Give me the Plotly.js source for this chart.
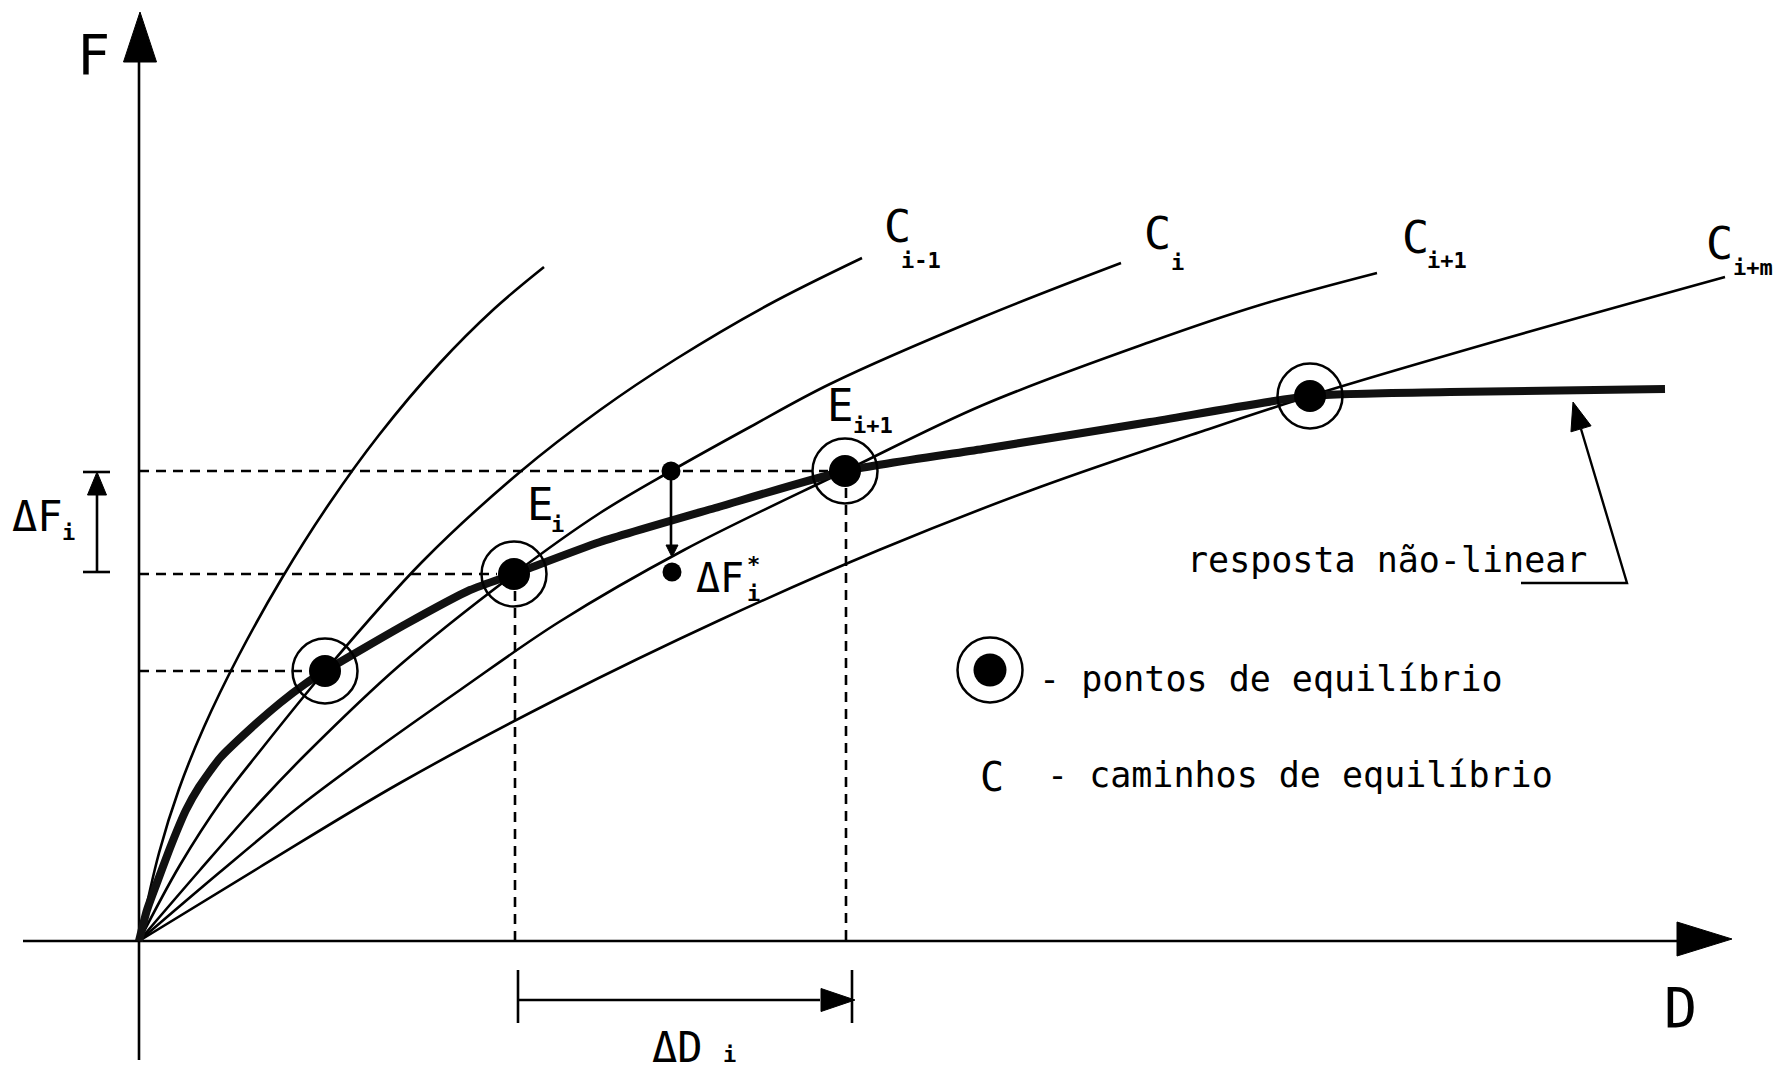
<!DOCTYPE html>
<html><head><meta charset="utf-8">
<script src="https://cdn.plot.ly/plotly-3.0.1.min.js"></script>
<style>html,body{margin:0;padding:0;background:#fff;}#chart{width:1776px;height:1071px;}</style>
</head><body><div id="chart"></div>
<script>
// ---- Data (D = displacement, F = force, arbitrary units) ----
// Equilibrium paths
const cIm2D = [0,20,40,65,100,143,190,240,300,355,405];
const cIm2F = [0,88,152,214,286,363,437,506,577,632,674];
const cIm1D = [0,41,83,121,186,283,381,461,537,629,723];
const cIm1F = [0,76,141,190,270,379,469,531,582,636,683];
const cID   = [0,61,121,169,261,375,461,532,611,691,844,982];
const cIF   = [0,71,139,189,276,367,428,470,514,557,624,678];
const cIp1D = [0,81,161,239,321,420,545,706,844,1011,1121,1238];
const cIp1F = [0,69,135,193,251,319,391,470,536,599,636,668];
const cImD  = [0,121,261,420,581,740,901,1061,1171,1361,1586];
const cImF  = [0,74,158,243,321,391,454,509,545,601,664];
// Non-linear response
const respD = [0,8,19,33,47,60,81,110,141,166,186,267,331,375,461,576,706,844,1011,1171,1311,1526];
const respF = [0,31,61,98,131,154,183,211,238,257,270,317,351,367,399,433,470,492,519,545,549,552];
// Equilibrium points
const eqD = [186,375,706,1171];
const eqF = [270,367,470,545];
// Predicted point (ΔF*)
const predD = [532,533];
const predF = [470,369];
// Labels
const pathLabels = ['i-1','i','i+1','i+m'];
const eqLabels = ['i','i+1'];

// ---- Drawing helpers ----
const K = '#000';
function line(x, y, w, dash, shape) {
  return {x:x, y:y, mode:'lines', hoverinfo:'skip',
    line:{color:K, width:w, dash:dash||'solid', shape:shape||'linear', smoothing:1}};
}
function tri(tx, ty, ux, uy, len, hw) {
  const n = Math.hypot(ux, uy); ux/=n; uy/=n;
  const bx = tx-ux*len, by = ty-uy*len, px = -uy, py = ux;
  return {x:[tx,bx+px*hw,bx-px*hw,tx], y:[ty,by+py*hw,by-py*hw,ty], mode:'lines',
    fill:'toself', fillcolor:K, line:{color:K,width:1}, hoverinfo:'skip'};
}
function dots(x, y, s) {
  return {x:x, y:y, mode:'markers', hoverinfo:'skip', marker:{color:K, size:s, line:{width:0}}};
}
function rings(x, y, s) {
  return {x:x, y:y, mode:'markers', hoverinfo:'skip',
    marker:{symbol:'circle-open', color:K, size:s, line:{color:K, width:2.5}}};
}
const FONT = 'DejaVu Sans Mono';
function ann(text, x, y, size, xa) {
  return {text:text, x:x, y:y, xref:'x', yref:'y', showarrow:false,
    xanchor:xa||'center', yanchor:'middle', font:{family:FONT, size:size, color:K}};
}

const traces = [];
// axes
traces.push(line([0,0],[-119,880],2.6));
traces.push(line([-116,1540],[0,0],2.6));
traces.push(tri(1,929,0,1,50,16.5));
traces.push(tri(1593,2,1,0,55,17));
// equilibrium paths
[[cIm2D,cIm2F],[cIm1D,cIm1F],[cID,cIF],[cIp1D,cIp1F],[cImD,cImF]].forEach(p=>{
  traces.push(line(p[0],p[1],2.6,'solid','spline'));
});
// dashed guides
for (let k=0;k<3;k++) traces.push(line([0,eqD[k]-17],[eqF[k],eqF[k]],2.6,'10px,7px'));
for (let k=1;k<3;k++) traces.push(line([eqD[k]+1,eqD[k]+1],[eqF[k]-17,0],2.6,'10px,7px'));
// non-linear response
traces.push({x:respD, y:respF, mode:'lines', hoverinfo:'skip',
  line:{color:'#111', width:8, shape:'spline', smoothing:0.6}});
// ΔF_i dimension
const dfx = -42;
traces.push(line([dfx,dfx],[eqF[1]+2,eqF[2]-22],2.6));
traces.push(line([dfx-14,dfx+13],[eqF[2]-1,eqF[2]-1],2.6));
traces.push(line([dfx-14,dfx+13],[eqF[1]+2,eqF[1]+2],2.6));
traces.push(tri(dfx,eqF[2]-1,0,1,23,9.5));
// ΔD_i dimension
const ddy = -59;
traces.push(line([eqD[1]+4,eqD[2]-25],[ddy,ddy],2.6));
traces.push(line([eqD[1]+4,eqD[1]+4],[-29,-82],2.6));
traces.push(line([eqD[2]+7,eqD[2]+7],[-29,-82],2.6));
traces.push(tri(eqD[2]+10,ddy,1,0,34,11.5));
// ΔF* predictor
traces.push(line([predD[0],predD[0]],[predF[0],predF[1]+26],2.6));
traces.push(tri(predD[1],predF[1]+15,0,-1,12,6));
traces.push(dots(predD,predF,19));
// pointer to response
traces.push(line([1382,1488,1442],[358,358,512],2.4));
traces.push(tri(1434,539,-54,181,28,10.5));
// equilibrium points
traces.push(rings(eqD,eqF,65));
traces.push(dots(eqD,eqF,32));
// legend symbol
traces.push(rings([851],[271],65));
traces.push(dots([851],[271],33));

const B = s => '<b>'+s+'</b>';
const annotations = [
  ann('F',-46,886,55),
  ann('D',1541,-67,55),
  ann('C',758,715,45), ann(B(pathLabels[0]),782,681,22),
  ann('C',1018,708,45), ann(B(pathLabels[1]),1038,679,22),
  ann('C',1276,704,45), ann(B(pathLabels[2]),1308,681,22),
  ann('C',1580,698,45), ann(B(pathLabels[3]),1614,674,22),
  ann('E',401,437,44), ann(B(eqLabels[0]),418,417,22),
  ann('E',701,536,44), ann(B(eqLabels[1]),734,516,22),
  ann('ΔF',-102,425,42), ann(B('i'),-71,409,22),
  ann('ΔF',581,363,40), ann(B('*')+'<br>'+B('i'),614,362,22),
  ann('ΔD',538,-106,42), ann(B('i'),590,-113,22),
  ann('resposta não-linear',1248,381,35),
  ann('- pontos de equilíbrio',898,262,35,'left'),
  ann('C',853,164,40),
  ann('- caminhos de equilíbrio',906,166,35,'left')
];

const layout = {
  width:1776, height:1071, autosize:false,
  margin:{l:0,r:0,t:0,b:0,pad:0},
  paper_bgcolor:'#fff', plot_bgcolor:'#fff', showlegend:false,
  xaxis:{range:[-139,1637], visible:false, fixedrange:true},
  yaxis:{range:[-130,941], visible:false, fixedrange:true},
  annotations:annotations
};
Plotly.newPlot('chart', traces, layout, {staticPlot:true, displayModeBar:false});
</script></body></html>
